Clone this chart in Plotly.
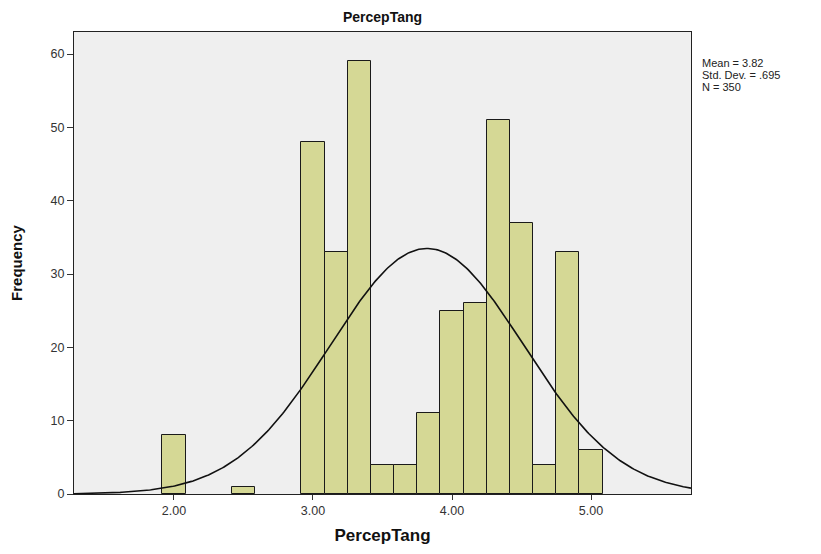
import numpy as np
import plotly.graph_objects as go

# Histogram of PercepTang scores (bins of width 1/6)
bin_centers = [2.0, 2.5, 3.0, 19 / 6, 10 / 3, 3.5, 11 / 3, 23 / 6,
               4.0, 25 / 6, 13 / 3, 4.5, 14 / 3, 29 / 6, 5.0]
frequencies = [8, 1, 48, 33, 59, 4, 4, 11, 25, 26, 51, 37, 4, 33, 6]
bin_width = 1 / 6

# Summary statistics
mean_val = 3.82
std_dev = 0.695
n_obs = 350

x_ticks = [2.0, 3.0, 4.0, 5.0]
y_ticks = [0, 10, 20, 30, 40, 50, 60]
x_range = [1.281, 5.719]
y_range = [0, 63]

font_family = "Arial, Liberation Sans, sans-serif"

# Normal curve scaled to the histogram counts
xs = np.linspace(x_range[0], x_range[1], 400)
ys = n_obs * bin_width / (std_dev * np.sqrt(2 * np.pi)) * np.exp(
    -0.5 * ((xs - mean_val) / std_dev) ** 2)

fig = go.Figure()
fig.add_trace(go.Bar(
    x=bin_centers, y=frequencies, width=bin_width,
    marker=dict(color="#d5d895", line=dict(color="#1a1a1a", width=1)),
    hoverinfo="x+y",
))
fig.add_trace(go.Scatter(
    x=xs, y=ys, mode="lines",
    line=dict(color="#111111", width=1.6),
    hoverinfo="skip",
))

fig.update_layout(
    width=821, height=554,
    margin=dict(l=74, r=130, t=32, b=60),
    paper_bgcolor="white",
    plot_bgcolor="#efefef",
    showlegend=False,
    bargap=0,
    font=dict(family=font_family, size=12.5, color="#333333"),
    title=dict(text="<b>PercepTang</b>", x=(74 + 691) / 2 / 821, xanchor="center",
               y=1 - 17 / 554, yanchor="middle",
               font=dict(size=14, color="#111111", family=font_family)),
)

fig.update_xaxes(
    range=x_range, tickvals=x_ticks, ticktext=[f"{v:.2f}" for v in x_ticks],
    ticks="outside", ticklen=5, tickcolor="#333333", tickwidth=1,
    showgrid=False, zeroline=False,
    showline=True, linecolor="#222222", linewidth=1, mirror=True,
    title=dict(text="<b>PercepTang</b>", standoff=12,
               font=dict(size=17, color="#111111", family=font_family)),
)
fig.update_yaxes(
    range=y_range, tickvals=y_ticks,
    ticks="outside", ticklen=6, tickcolor="#333333", tickwidth=1,
    showgrid=False, zeroline=False,
    showline=True, linecolor="#222222", linewidth=1, mirror=True,
    title=dict(text="<b>Frequency</b>", standoff=24,
               font=dict(size=15, color="#111111", family=font_family)),
)

# Statistics box to the right of the plot
stats_lines = [f"Mean = {mean_val:.2f}",
               f"Std. Dev. = {std_dev:.3f}".replace("0.", "."),
               f"N = {n_obs}"]
for i, line in enumerate(stats_lines):
    fig.add_annotation(
        x=1, xref="paper", xanchor="left", xshift=9,
        y=1 - (31 + i * 12) / 462, yref="paper", yanchor="middle",
        text=line, showarrow=False,
        font=dict(size=11, color="#222222", family=font_family),
        align="left",
    )

fig.write_html("out.html")
